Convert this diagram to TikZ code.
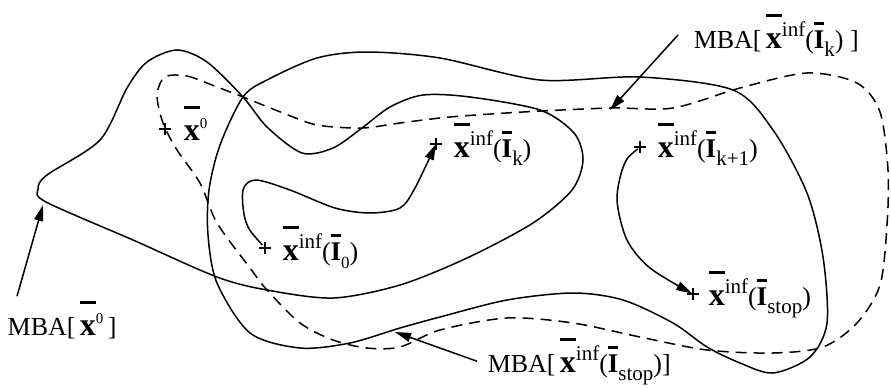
\documentclass[tikz,border=0pt]{standalone}
\usepackage{fontspec}
\setmainfont{Liberation Serif}
\usetikzlibrary{arrows.meta,calc}

% bold letter with a bar above it
\newcommand{\barred}[3]{\setbox0=\hbox{#3}\rlap{\copy0}\rule[#1]{\wd0}{#2}}
\newcommand{\bx}{\barred{31pt}{3pt}{\fontsize{32}{32}\selectfont\bfseries x}}
\newcommand{\bI}{\barred{23pt}{3pt}{\fontsize{27}{27}\selectfont\bfseries I}}
\newcommand{\up}[2][21]{\raisebox{12pt}{\fontsize{#1}{#1}\selectfont #2}}
\newcommand{\dn}[2][21]{\raisebox{-8pt}{\fontsize{#1}{#1}\selectfont #2}}

\begin{document}
\begin{tikzpicture}[x=1pt,y=-1pt,line width=1.5pt,
    pt/.style={inner sep=0pt,minimum size=12pt,
      path picture={\draw[line width=1.1pt]
        (path picture bounding box.north) -- (path picture bounding box.south)
        (path picture bounding box.west) -- (path picture bounding box.east);}},
    txt/.style={inner sep=0pt,anchor=base west,font=\fontsize{26}{30}\selectfont},
    arr/.style={-{Triangle[length=16pt,width=9pt]}},
    bound/.style={dash pattern=on 11pt off 7pt}]
  \useasboundingbox (0,0) rectangle (891,388);
  % MBA of the start point
  \draw plot[smooth cycle] coordinates {(47,175) (100,140) (127,88)
    (147,62) (177,50) (207,62) (243,97) (267,127) (302,153) (333,148) (362,128)
    (390,107) (423,95) (470,97) (540,110) (574,133) (583,160) (572,190)
    (533,223) (467,258) (400,285) (333,298) (267,290) (217,277) (133,240)
    (46,202) (38,189)};
  % MBA at the stop point
  \draw plot[smooth cycle] coordinates {(243,97) (267,80) (317,58) (367,52)
    (440,58) (540,80) (640,77) (733,90) (773,130) (807,193) (823,257)
    (827,323) (810,357) (773,373) (740,363) (707,347) (673,323) (623,300)
    (573,293) (507,300) (440,317) (400,328) (350,343) (300,348) (250,333)
    (217,283) (208,235) (209,190) (220,145)};
  % MBA at step k
  \draw[bound] plot[smooth cycle] coordinates {(165,77) (187,76) (217,87)
    (243,97) (283,113) (317,125) (362,128) (400,123) (450,117) (523,112)
    (610,108) (673,108) (740,88) (807,73) (857,83) (880,112) (888,170)
    (887,225) (880,285) (857,323) (823,347) (773,353) (707,350) (640,337)
    (573,323) (507,318) (440,330) (400,347) (367,348) (333,340) (300,323)
    (267,290) (250,268) (217,223) (200,183) (177,150) (163,123) (157,95)};
  \coordinate (e0) at (43,205);
  \coordinate (ek) at (610,110);
  \coordinate (es) at (395,332);
  % points
  \node[pt] (p0) at (165,129) {};
  \node[pt] (pk) at (436,144) {};
  \node[pt] (pk1) at (640,147) {};
  \node[pt] (pI0) at (265,248) {};
  \node[pt] (ps) at (693,294) {};
  \node[txt] (t0) at (183,140) {\bx\up[15]{0}};
  \node[txt] (tk) at (453,157) {\bx\up{inf}(\bI\dn{k})};
  \node[txt] (tk1) at (657,157) {\bx\up{inf}(\bI\dn{k+1})};
  \node[txt] (tI0) at (282,260) {\bx\up{inf}(\bI\dn[17]{0})};
  \node[txt] (ts) at (708,305) {\bx\up{inf}(\bI\dn{stop})};
  % trajectories
  \draw[arr,shorten <=4pt] plot[smooth] coordinates {(pI0) (246,222) (243,190)
    (256,180) (290,190) (335,208) (370,213) (400,208) (415,188) (pk)};
  \draw[arr,shorten <=3pt,shorten >=1pt] plot[smooth] coordinates {(pk1)
    (624,165) (617,200) (627,240) (650,268) (ps)};
  % labels
  \node[txt] (lbl0) at (7,335) {MBA[\,\bx\up[15]{0}\,]};
  \node[txt] (lblk) at (693,48) {MBA[\,\bx\up{inf}(\bI\dn{k})\ ]};
  \node[txt] (lbls) at (487,372) {MBA[\,\bx\up{inf}(\bI\dn{stop})]};
  \draw[arr] ([xshift=10pt,yshift=4pt]lbl0.north west) -- (e0);
  \draw[arr] ([xshift=-15pt]lblk.west) -- (ek);
  \draw[arr] ([xshift=-10pt]lbls.west) -- (es);
\end{tikzpicture}
\end{document}
